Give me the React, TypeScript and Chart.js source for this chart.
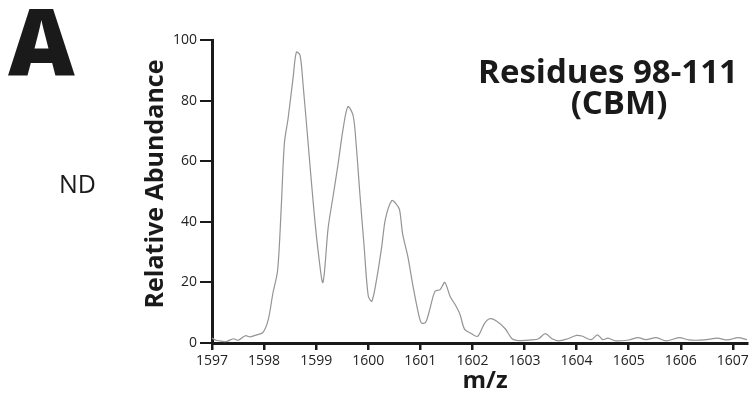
import React, { useEffect, useRef } from "react";
import { Chart, registerables } from "chart.js";

Chart.register(...registerables);

// m/z values (x) and relative abundance (y)
const mzValues = [
  1597.0, 1597.08, 1597.18, 1597.28, 1597.41, 1597.5, 1597.64, 1597.73, 1597.86, 1597.98,
  1598.08, 1598.17, 1598.26, 1598.33, 1598.39, 1598.46, 1598.56, 1598.62, 1598.69, 1598.75,
  1598.85, 1598.95, 1599.04, 1599.13, 1599.23, 1599.33, 1599.42, 1599.52, 1599.61, 1599.71,
  1599.77, 1599.84, 1599.92, 1600.0, 1600.07, 1600.17, 1600.26, 1600.33, 1600.45, 1600.53,
  1600.6, 1600.66, 1600.76, 1600.86, 1600.96, 1601.02, 1601.1, 1601.18, 1601.28, 1601.38,
  1601.47, 1601.57, 1601.67, 1601.76, 1601.85, 1601.97, 1602.1, 1602.23, 1602.33, 1602.46,
  1602.63, 1602.76, 1602.89, 1603.14, 1603.27, 1603.4, 1603.53, 1603.66, 1603.83, 1604.0,
  1604.1, 1604.28, 1604.4, 1604.5, 1604.6, 1604.75, 1605.0, 1605.18, 1605.33, 1605.53,
  1605.72, 1605.97, 1606.15, 1606.45, 1606.7, 1606.9, 1607.1, 1607.27,
];
const abundance = [
  1.6, 0.9, 0.6, 0.5, 1.4, 0.9, 2.4, 2.0, 2.7, 3.5,
  7.7, 16.5, 24, 45, 66, 74, 88, 96, 95, 85,
  65, 45, 30, 20, 38, 49, 59, 71, 78, 75,
  65, 49, 32, 15.5, 13.8, 22, 32, 41, 47, 46,
  44, 36, 28.5, 18.7, 10, 6.6, 6.8, 11, 17, 17.6,
  20, 15.4, 12.6, 9.5, 4.5, 3.2, 2.2, 6.4, 8, 7.3,
  4.7, 1.4, 0.8, 1.0, 1.4, 3.1, 1.4, 0.7, 1.4, 2.5,
  2.3, 1.1, 2.7, 1.1, 1.6, 0.7, 1.0, 1.8, 1.1, 1.8,
  0.7, 1.8, 1.0, 1.0, 1.6, 1.0, 1.8, 1.1,
];

const xMin = 1597;
const xMax = 1607.27;
const yMin = 0;
const yMax = 100;

const panelLabel = "A";
const sideLabel = "ND";
const yTitle = "Relative Abundance";
const xTitle = "m/z";
const titleLines = ["Residues 98-111", "(CBM)"];

const INK = "#1a1a1a";
const FONT = "'Open Sans', 'Liberation Sans', sans-serif";

const textPlugin = {
  id: "textPlugin",
  afterDraw(chart: any) {
    const ctx = chart.ctx as CanvasRenderingContext2D;
    ctx.save();
    ctx.fillStyle = INK;
    ctx.textBaseline = "alphabetic";

    ctx.font = `800 92px ${FONT}`;
    ctx.textAlign = "left";
    ctx.fillText(panelLabel, 8, 75);

    ctx.font = `400 25px ${FONT}`;
    ctx.fillText(sideLabel, 59, 193);

    ctx.font = `700 33px ${FONT}`;
    ctx.textAlign = "center";
    ctx.fillText(titleLines[0], 608, 83);
    ctx.fillText(titleLines[1], 619, 114);

    ctx.font = `700 24px ${FONT}`;
    ctx.fillText(xTitle, 485, 388);

    ctx.save();
    ctx.translate(163, 184);
    ctx.rotate(-Math.PI / 2);
    ctx.font = `700 25px ${FONT}`;
    ctx.textAlign = "center";
    ctx.fillText(yTitle, 0, 0);
    ctx.restore();

    ctx.restore();
  },
};

export default function App() {
  const canvasRef = useRef<HTMLCanvasElement | null>(null);

  useEffect(() => {
    if (!canvasRef.current) return;
    const points = mzValues.map((x, i) => ({ x, y: abundance[i] }));
    const chart = new Chart(canvasRef.current, {
      type: "line",
      data: {
        datasets: [
          {
            data: points,
            borderColor: "#949494",
            borderWidth: 1.2,
            pointRadius: 0,
            tension: 0.3,
            fill: false,
          },
        ],
      },
      options: {
        animation: false,
        responsive: false,
        layout: { padding: { top: 40, right: 5, left: 0, bottom: 0 } },
        plugins: {
          legend: { display: false },
          tooltip: { enabled: false },
          title: { display: false },
        },
        scales: {
          x: {
            type: "linear",
            min: xMin,
            max: xMax,
            afterFit: (s: any) => {
              s.height = 55;
            },
            ticks: {
              stepSize: 1,
              includeBounds: false,
              autoSkip: false,
              maxRotation: 0,
              padding: 3,
              color: "#222",
              font: { family: FONT, size: 14 },
              callback: (v: any) => String(v),
            },
            grid: {
              drawOnChartArea: false,
              drawTicks: true,
              tickLength: 7,
              lineWidth: 2.5,
              color: INK,
            },
            border: { display: true, width: 3, color: INK },
          },
          y: {
            type: "linear",
            min: yMin,
            max: yMax,
            afterFit: (s: any) => {
              s.width = 212;
            },
            ticks: {
              stepSize: 20,
              padding: 3,
              color: "#222",
              font: { family: FONT, size: 14 },
            },
            grid: {
              drawOnChartArea: false,
              drawTicks: true,
              tickLength: 12,
              lineWidth: 2,
              color: INK,
            },
            border: { display: true, width: 3, color: INK },
          },
        },
      },
      plugins: [textPlugin],
    });
    return () => chart.destroy();
  }, []);

  return (
    <div style={{ position: "fixed", left: 0, top: 0, width: 752, height: 398, background: "#fff" }}>
      <canvas ref={canvasRef} width={752} height={398} style={{ display: "block" }} />
    </div>
  );
}
